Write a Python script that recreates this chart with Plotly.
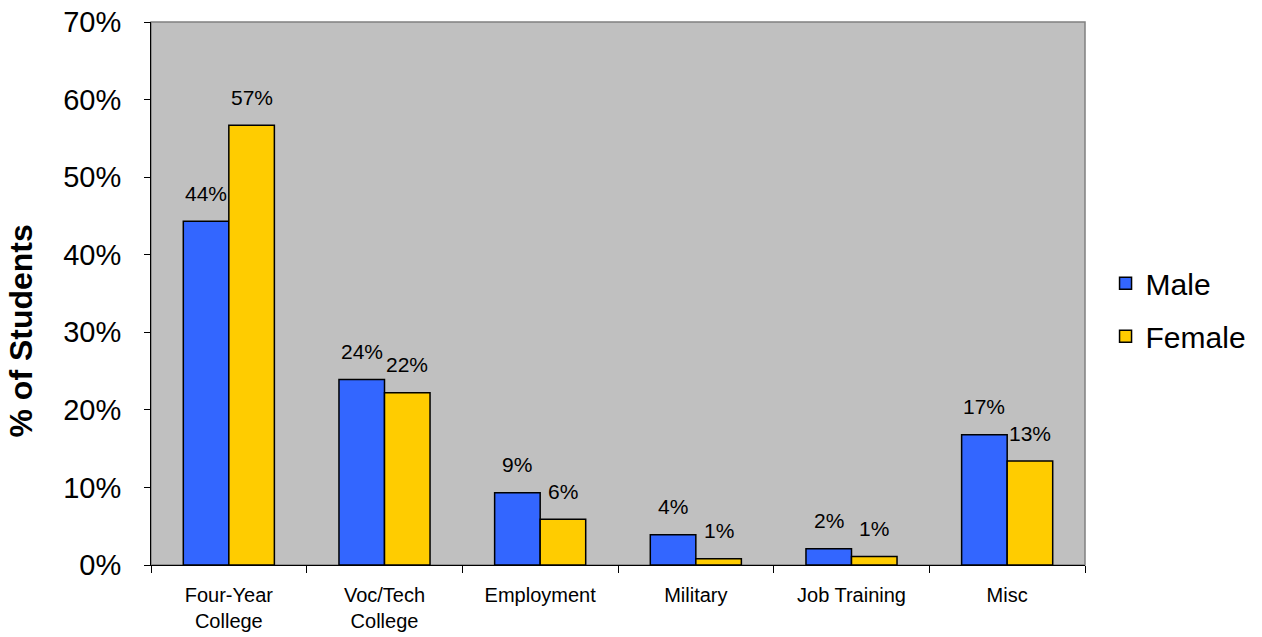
import plotly.graph_objects as go

categories = ["Four-Year<br>College", "Voc/Tech<br>College", "Employment",
              "Military", "Job Training", "Misc"]
male = [0.443, 0.239, 0.093, 0.039, 0.021, 0.168]
female = [0.567, 0.222, 0.059, 0.008, 0.011, 0.134]
y_ticks = [0, 0.1, 0.2, 0.3, 0.4, 0.5, 0.6, 0.7]

BLUE = "#3366FF"
YELLOW = "#FFCC00"
FONT = "Liberation Sans, Arial, sans-serif"

fig = go.Figure()
fig.add_trace(go.Bar(name="Male", x=categories, y=male, marker_color=BLUE,
                     marker_line=dict(color="black", width=1.5), legendgroup="m"))
fig.add_trace(go.Bar(name="Female", x=categories, y=female, marker_color=YELLOW,
                     marker_line=dict(color="black", width=1.5), legendgroup="f"))

# value labels above each bar
for series, off in [(male, -0.5), (female, 0.5)]:
    for i, v in enumerate(series):
        fig.add_annotation(x=i, y=v, xref="x", yref="y", text=f"{v:.0%}",
                           showarrow=False, yanchor="middle", yshift=28,
                           xshift=off * 45.5,
                           font=dict(family=FONT, size=21, color="black"))

# y-axis title
fig.add_annotation(x=0, y=0.43, xref="paper", yref="paper", xanchor="center",
                   text="<b>% of Students</b>", textangle=-90, showarrow=False,
                   xshift=-130, font=dict(family=FONT, size=32, color="black"))

# plot area frame
fig.add_shape(type="rect", xref="paper", yref="paper", x0=0, y0=0, x1=1, y1=1,
              line=dict(color="#808080", width=1.5), layer="below")

fig.update_layout(
    width=1262, height=637,
    margin=dict(l=151, r=177, t=22, b=72, autoexpand=False),
    paper_bgcolor="white", plot_bgcolor="#C0C0C0",
    barmode="group", bargap=0.415, bargroupgap=0,
    font=dict(family=FONT, color="black"),
    showlegend=True,
    legend=dict(x=1.022, y=0.47, xanchor="left", yanchor="middle",
                traceorder="grouped", tracegroupgap=11,
                font=dict(family=FONT, size=30, color="black"),
                bgcolor="rgba(0,0,0,0)", itemwidth=30),
    xaxis=dict(showline=True, linecolor="black", linewidth=1,
               ticks="outside", tickson="boundaries", ticklen=7,
               tickcolor="black", tickfont=dict(family=FONT, size=20),
               showgrid=False, ticklabelstandoff=12, automargin=False),
    yaxis=dict(range=[0, 0.7], tickvals=y_ticks, tickformat=".0%",
               showline=True, linecolor="black", linewidth=1,
               ticks="outside", ticklen=6, tickcolor="black",
               tickfont=dict(family=FONT, size=29), showgrid=False,
               zeroline=False, ticklabelstandoff=17, automargin=False),
)

fig.write_html("out.html")
